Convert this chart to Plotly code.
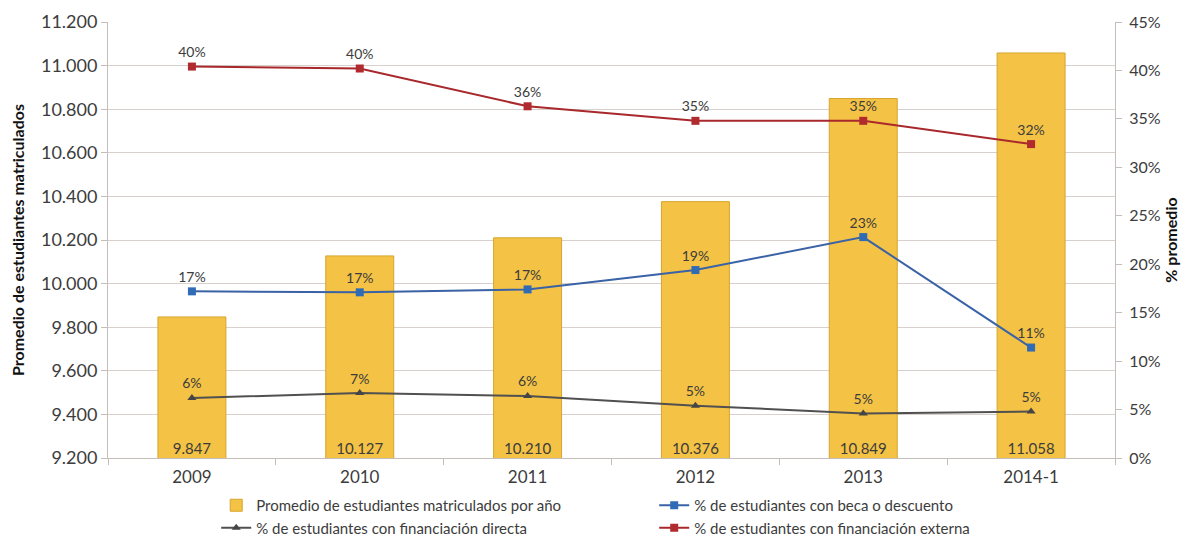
import plotly.graph_objects as go

years = ["2009", "2010", "2011", "2012", "2013", "2014-1"]
students = [9847, 10127, 10210, 10376, 10849, 11058]
pct_beca = [17.2, 17.1, 17.4, 19.4, 22.8, 11.4]
pct_directa = [6.2, 6.7, 6.4, 5.4, 4.6, 4.8]
pct_externa = [40.4, 40.2, 36.3, 34.8, 34.8, 32.4]

names = [
    "Promedio de estudiantes matriculados por año",
    "% de estudiantes con beca o descuento",
    "% de estudiantes con financiación directa",
    "% de estudiantes con financiación externa",
]

left_ticks = list(range(9200, 11201, 200))
right_ticks = list(range(0, 46, 5))
right_ticktext = [f"{v}%" for v in right_ticks]

FONT = "Lato, 'Open Sans', sans-serif"
TXT = "#3c3c3c"
AX = "#C4BDBA"

# page body has an 8px default margin; figure is sized to fit the 1191x540 window
W, H = 1183, 532

fig = go.Figure()
fig.add_trace(go.Bar(
    x=years, y=students, name=names[0], yaxis="y",
    marker=dict(color="#F4C244", line=dict(color="#D6A52C", width=1)),
))
line_specs = [
    (pct_beca, names[1], "#3A62A6", "#2F6CB5", "square"),
    (pct_directa, names[2], "#505050", "#454545", "triangle-up"),
    (pct_externa, names[3], "#A8282C", "#B02A2E", "square"),
]
for vals, nm, lc, mc, sym in line_specs:
    fig.add_trace(go.Scatter(
        x=years, y=vals, name=nm, yaxis="y2", mode="lines+markers+text",
        line=dict(color=lc, width=2),
        marker=dict(color=mc, symbol=sym, size=8),
        texttemplate="%{y:.0f}%", textposition="top center",
        textfont=dict(size=14, color=TXT, family=FONT),
        cliponaxis=False,
    ))
# bar value labels at the foot of each bar
fig.add_trace(go.Scatter(
    x=years, y=[left_ticks[0]] * len(years), yaxis="y", mode="text",
    text=[f"{v:,}".replace(",", ".") for v in students],
    textposition="top center", showlegend=False, hoverinfo="skip",
    textfont=dict(size=15, color=TXT, family=FONT), cliponaxis=False,
))

fig.update_layout(
    width=W, height=H,
    margin=dict(l=100, r=76, t=14, b=82, autoexpand=False),
    paper_bgcolor="white", plot_bgcolor="white",
    separators=",.",
    font=dict(family=FONT, color=TXT),
    bargap=0.595,
    showlegend=True,
    legend=dict(
        orientation="h", xref="container", yref="container",
        x=0.176, y=1 - 481 / H, xanchor="left", yanchor="top",
        entrywidth=393, entrywidthmode="pixels", itemwidth=30,
        font=dict(size=15, color=TXT, family=FONT),
        tracegroupgap=0, bgcolor="rgba(0,0,0,0)",
    ),
    xaxis=dict(
        type="category", showgrid=False, showline=True, linecolor=AX,
        ticks="outside", tickson="boundaries", ticklen=6, tickcolor=AX,
        ticklabelstandoff=4, automargin=False,
        tickfont=dict(size=17, color=TXT, family=FONT),
    ),
    yaxis=dict(
        range=[left_ticks[0], left_ticks[-1]], tickvals=left_ticks, tickformat=",d",
        showgrid=True, gridcolor="#D8D0CD", gridwidth=1,
        showline=True, linecolor=AX, ticks="outside", ticklen=6,
        tickcolor=AX, zeroline=False, automargin=False,
        tickfont=dict(size=18, color=TXT, family=FONT),
        title=dict(text="<b>Promedio de estudiantes matriculados</b>",
                   font=dict(size=16, color="#111111", family=FONT), standoff=14),
    ),
    yaxis2=dict(
        overlaying="y", side="right", range=[right_ticks[0], right_ticks[-1]],
        tickvals=right_ticks, ticktext=right_ticktext,
        showgrid=False, zeroline=False, automargin=False,
        showline=True, linecolor=AX, ticks="outside", ticklen=6,
        tickcolor=AX, ticklabelstandoff=4,
        tickfont=dict(size=16, color=TXT, family=FONT),
        title=dict(text="<b>% promedio</b>",
                   font=dict(size=16, color="#111111", family=FONT), standoff=6),
    ),
)

fig.write_html("out.html")
